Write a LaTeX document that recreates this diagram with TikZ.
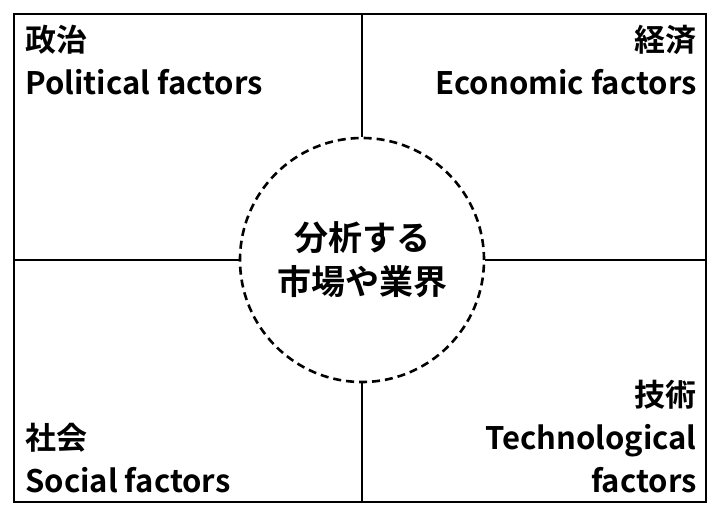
\documentclass[tikz,border=0pt]{standalone}
\usepackage{fontspec}
\setmainfont{Noto Sans CJK JP}[BoldFont={* Bold}]
\begin{document}
\begin{tikzpicture}[x=1pt,y=-1pt,line width=2.6pt,
  lbl/.style={font=\fontsize{31}{43}\selectfont\bfseries,inner sep=0pt,align=left}]
\useasboundingbox (0,0) rectangle (720,521);
\draw (14,14) rectangle (706,502);
\node[circle,draw,dashed,dash pattern=on 8pt off 5pt,minimum size=244pt,inner sep=0pt,
  font=\fontsize{34}{44}\selectfont\bfseries,align=center] (c) at (362,260) {分析する\\市場や業界};
\coordinate (t) at (362,14); \coordinate (b) at (362,502);
\coordinate (l) at (14,260); \coordinate (r) at (706,260);
\draw (t) -- (c.north); \draw (c.south) -- (b);
\draw (l) -- (c.west); \draw (c.east) -- (r);
\node[lbl,anchor=north west] (p) at (24,24) {政治\\Political factors};
\node[lbl,anchor=north east,align=right] (e) at (698,24) {経済\\Economic factors};
\node[lbl,anchor=south west] (s) at (24,494) {社会\\Social factors};
\node[lbl,anchor=south east,align=right] (te) at (698,494) {技術\\Technological\\factors};
\end{tikzpicture}
\end{document}
